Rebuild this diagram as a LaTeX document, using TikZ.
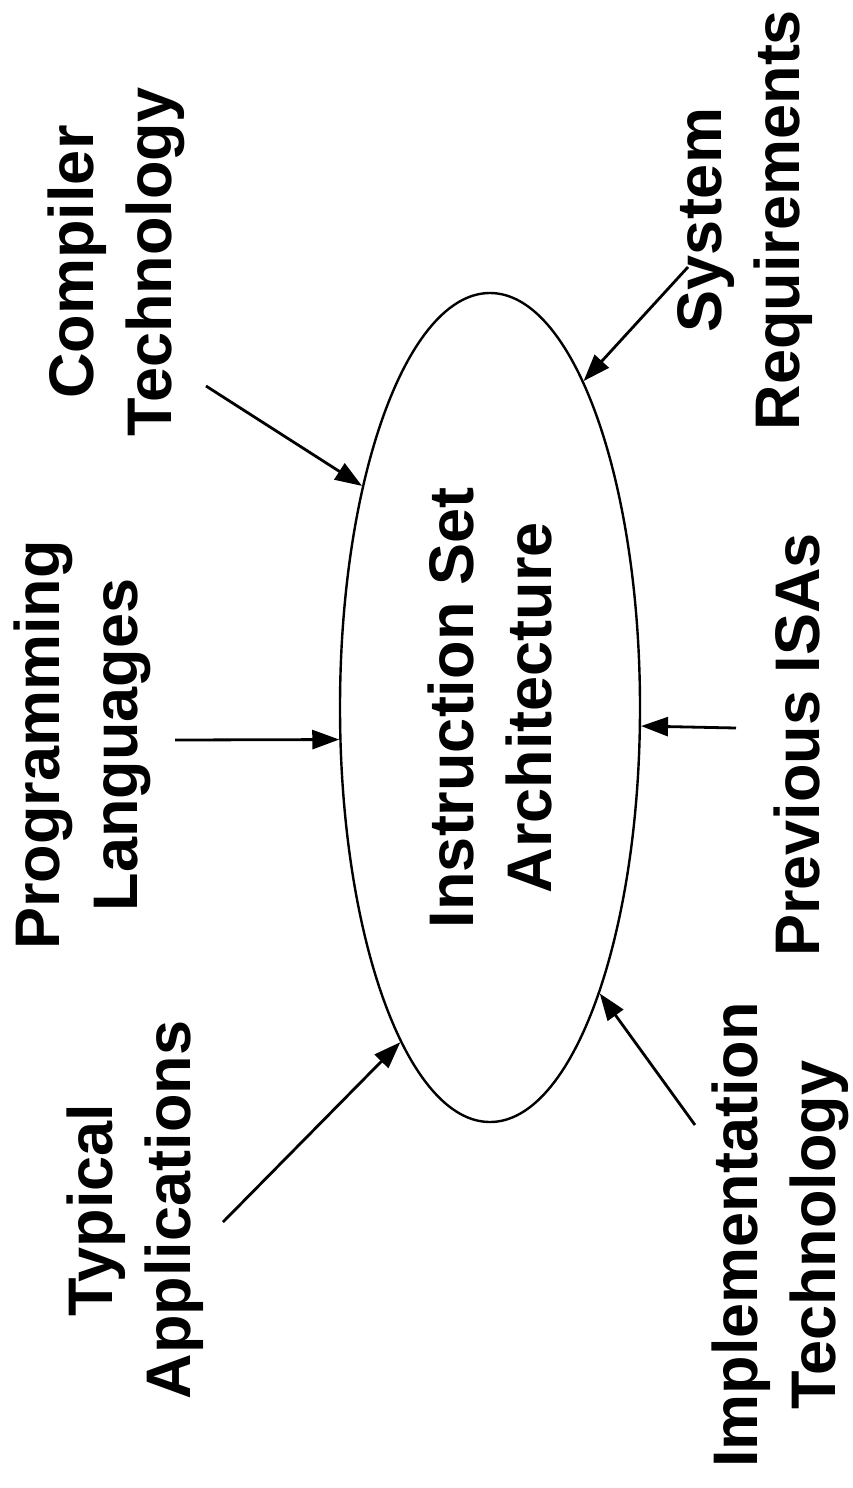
\documentclass[tikz,border=0pt]{standalone}
\usepackage{fontspec}
\setmainfont{Liberation Sans}
\usetikzlibrary{arrows.meta,shapes.geometric}

\begin{document}
\begin{tikzpicture}[x=1pt, y=-1pt, >={Triangle[length=27pt,width=19pt]},
  lbl/.style={rotate=90, align=center, inner sep=0pt, font=\fontsize{63}{78}\selectfont\bfseries},
  feed/.style={->, line width=2.8pt}]
\useasboundingbox (0,0) rectangle (853,1488);
% central ellipse
\node[ellipse, draw, line width=2.4pt, minimum width=300pt, minimum height=829pt, inner sep=0pt] (isa) at (490,707.5) {};
\node[lbl] (isatext) at (isa) {Instruction Set\\Architecture};
% labels around
\node[lbl] (comp) at (116,262) {Compiler\\Technology};
\node[lbl] (lang) at (82,745) {Programming\\Languages};
\node[lbl] (apps) at (135,1210) {Typical\\Applications};
\node[lbl] (sysreq) at (745,220) {System\\Requirements};
\node[lbl] (prev) at (797,745) {Previous ISAs};
\node[lbl] (impl) at (780,1235) {Implementation\\Technology};
% arrow tails
\coordinate (compS) at (206,386);
\coordinate (langS) at (175,740);
\coordinate (appsS) at (223,1222);
\coordinate (sysS) at (688,267);
\coordinate (prevS) at (736,728);
\coordinate (implS) at (695,1125);
\draw[feed] (compS) -- (isa.120.3);
\draw[feed] (langS) -- (isa.192.2);
\draw[feed] (appsS) -- (isa.255.3);
\draw[feed] (sysS) -- (isa.74.5);
\draw[feed] (prevS) -- (isa.-7.6);
\draw[feed] (implS) -- (isa.-69.7);
\end{tikzpicture}
\end{document}
